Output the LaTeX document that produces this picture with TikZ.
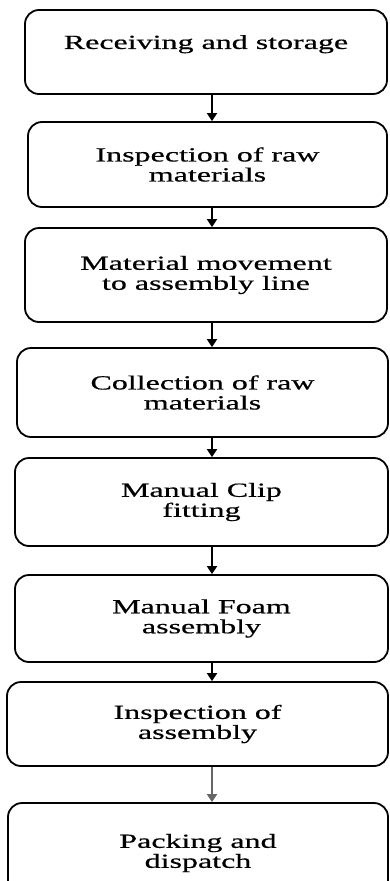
\documentclass[tikz,border=0pt]{standalone}
\usepackage{fontspec}
\setmainfont{Liberation Serif}[FakeStretch=1.6, FakeBold=0.6]
\usetikzlibrary{arrows.meta}
\begin{document}
\begin{tikzpicture}[x=1pt, y=-1pt,
  stepbox/.style={draw, rounded corners=14pt, line width=1.8pt, align=center, inner sep=0pt, font=\fontsize{20}{20}\selectfont},
  flow/.style={draw, line width=1.8pt, -{Triangle[width=10pt,length=8pt]}}]
\useasboundingbox (0,0) rectangle (389,881);
\coordinate (axis) at (212,0);
\node[stepbox, minimum width=362pt, minimum height=84pt] (recv) at (206,52) {Receiving and storage\\ \mbox{}};
\node[stepbox, minimum width=359pt, minimum height=85pt] (insp) at (207.5,164.5) {Inspection of raw\\materials};
\node[stepbox, minimum width=362pt, minimum height=94pt] (move) at (206,275) {Material movement\\to assembly line};
\node[stepbox, minimum width=371pt, minimum height=89pt] (coll) at (202.5,392.5) {Collection of raw\\materials};
\node[stepbox, minimum width=373pt, minimum height=88pt] (clip) at (201.5,502) {Manual Clip\\fitting};
\node[stepbox, minimum width=373pt, minimum height=87pt] (foam) at (201.5,618.5) {Manual Foam\\assembly};
\node[stepbox, minimum width=381pt, minimum height=84pt] (check) at (197.5,724) {Inspection of\\assembly};
\node[stepbox, minimum width=380pt, minimum height=100pt] (pack) at (198,853) {Packing and\\dispatch};
\draw[flow] (recv.south -| axis) -- (insp.north -| axis);
\draw[flow] (insp.south -| axis) -- (move.north -| axis);
\draw[flow] (move.south -| axis) -- (coll.north -| axis);
\draw[flow] (coll.south -| axis) -- (clip.north -| axis);
\draw[flow] (clip.south -| axis) -- (foam.north -| axis);
\draw[flow] (foam.south -| axis) -- (check.north -| axis);
\draw[flow, gray!80!black] (check.south -| axis) -- (pack.north -| axis);
\end{tikzpicture}
\end{document}
